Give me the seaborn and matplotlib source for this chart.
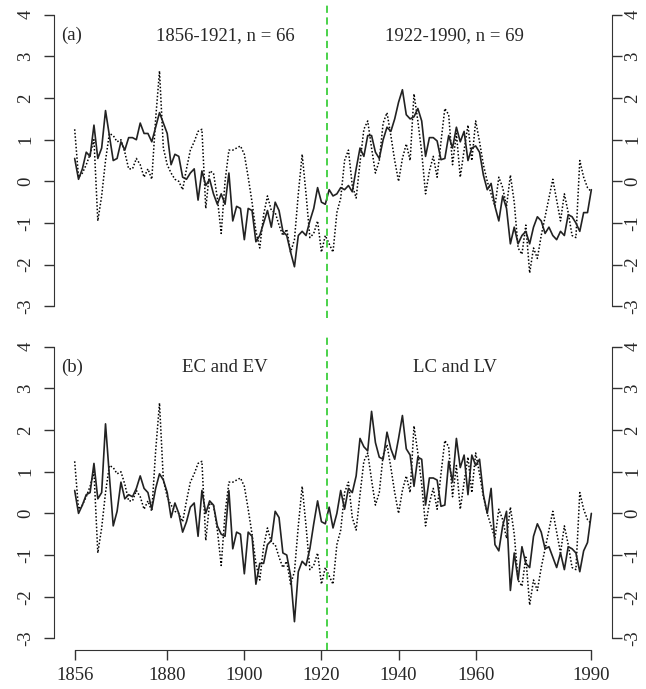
import numpy as np
import pandas as pd
import matplotlib
matplotlib.use("Agg")
import matplotlib.pyplot as plt
import seaborn as sns

years = np.arange(1856, 1991)

# dotted series, drawn in both panels
dotted = [
    1.25, 0.1, 0.2, 0.4, 0.65, 1.0, -0.95, -0.35, 0.5, 1.15,      # 1856-1865
    1.1, 0.95, 1.0, 0.7, 0.3, 0.3, 0.55, 0.4, 0.1, 0.3,           # 1866-1875
    0.05, 1.5, 2.65, 0.8, 0.4, 0.2, 0.05, 0.0, -0.2, 0.3,         # 1876-1885
    0.75, 0.95, 1.2, 1.25, -0.65, 0.25, 0.2, -0.4, -1.25, 0.0,    # 1886-1895
    0.75, 0.75, 0.8, 0.85, 0.65, 0.1, -0.5, -1.2, -1.6, -0.8,     # 1896-1905
    -0.35, -0.7, -0.75, -1.05, -1.3, -1.15, -1.7, -1.4, -0.3, 0.65,  # 1906-1915
    -0.3, -1.35, -1.25, -0.95, -1.7, -1.3, -1.5, -1.7, -0.75, -0.4,  # 1916-1925
    0.5, 0.75, -0.1, -0.4, 0.45, 1.25, 1.45, 0.8, 0.2, 0.5,       # 1926-1935
    1.4, 1.65, 1.1, 0.5, 0.0, 0.55, 0.9, 0.5, 2.1, 1.45,          # 1936-1945
    0.7, -0.3, 0.25, 0.6, 0.1, 0.95, 1.75, 1.6, 0.4, 1.15,        # 1946-1955
    0.1, 0.75, 1.35, 0.5, 1.45, 0.95, 0.4, 0.0, -0.3, -0.6,       # 1956-1965
    0.1, -0.15, -0.6, 0.15, -0.5, -1.6, -1.75, -1.05, -2.2, -1.6, # 1966-1975
    -1.85, -1.3, -0.85, -0.4, 0.05, -0.45, -0.95, -0.3, -0.75, -1.3,  # 1976-1985
    -1.35, 0.5, 0.1, -0.15, -0.25,                                # 1986-1990
]

# solid series, panel (a)
solid_a = [
    0.55, 0.05, 0.3, 0.7, 0.6, 1.35, 0.55, 0.8, 1.7, 1.1,         # 1856-1865
    0.5, 0.55, 0.95, 0.75, 1.05, 1.05, 1.0, 1.4, 1.15, 1.15,      # 1866-1875
    0.95, 1.3, 1.65, 1.4, 1.15, 0.4, 0.65, 0.6, 0.1, 0.05,        # 1876-1885
    0.2, 0.3, -0.45, 0.25, -0.1, 0.05, -0.3, -0.55, -0.3, -0.55,  # 1886-1895
    0.2, -0.95, -0.6, -0.65, -1.4, -0.65, -0.7, -1.45, -1.3, -1.0,  # 1896-1905
    -0.7, -1.1, -0.5, -0.7, -1.2, -1.3, -1.7, -2.05, -1.3, -1.2,  # 1906-1915
    -1.3, -0.95, -0.65, -0.15, -0.5, -0.55, -0.2, -0.35, -0.3, -0.15,  # 1916-1925
    -0.2, -0.1, -0.25, 0.3, 0.8, 0.6, 1.1, 1.1, 0.7, 0.55,        # 1926-1935
    1.0, 1.3, 1.2, 1.5, 1.9, 2.2, 1.6, 1.5, 1.55, 1.75,           # 1936-1945
    1.45, 0.6, 1.05, 1.05, 0.97, 0.52, 0.55, 1.1, 0.8, 1.3,       # 1946-1955
    0.95, 1.2, 0.5, 0.8, 0.85, 0.7, 0.15, -0.2, -0.05, -0.6,      # 1956-1965
    -0.95, -0.35, -0.65, -1.5, -1.1, -1.5, -1.3, -1.2, -1.5, -1.1,  # 1966-1975
    -0.85, -0.95, -1.25, -1.1, -1.3, -1.4, -1.2, -1.3, -0.8, -0.85,  # 1976-1985
    -1.0, -1.2, -0.75, -0.75, -0.2,                               # 1986-1990
]

# solid series, panel (b)
solid_b = [
    0.55, 0.0, 0.2, 0.45, 0.5, 1.2, 0.35, 0.5, 2.15, 0.9,         # 1856-1865
    -0.3, 0.05, 0.75, 0.35, 0.45, 0.4, 0.6, 0.9, 0.6, 0.5,        # 1866-1875
    0.1, 0.6, 0.95, 0.8, 0.5, -0.1, 0.25, 0.0, -0.45, -0.2,       # 1876-1885
    0.15, 0.25, -0.55, 0.55, 0.0, 0.3, 0.2, -0.3, -0.5, -0.55,    # 1886-1895
    0.55, -0.85, -0.45, -0.5, -1.45, -0.45, -0.55, -1.7, -1.2, -1.2,  # 1896-1905
    -0.75, -0.65, 0.05, -0.1, -0.95, -1.0, -1.5, -2.6, -1.4, -1.15,  # 1906-1915
    -1.25, -0.85, -0.25, 0.3, -0.2, -0.25, 0.15, -0.35, 0.0, 0.55,   # 1916-1925
    0.1, 0.6, 0.5, 0.9, 1.8, 1.6, 1.5, 2.45, 1.7, 1.35,           # 1926-1935
    1.3, 1.95, 1.55, 1.3, 1.8, 2.35, 1.55, 1.4, 0.65, 1.35,       # 1936-1945
    1.3, 0.2, 0.85, 0.85, 0.8, 0.17, 0.2, 1.25, 0.75, 1.8,        # 1946-1955
    1.1, 1.4, 0.45, 1.4, 1.15, 1.3, 0.45, 0.0, 0.6, -0.75,        # 1956-1965
    -0.9, -0.3, 0.05, -1.85, -0.95, -1.6, -0.8, -1.2, -1.3, -0.55,  # 1966-1975
    -0.25, -0.45, -0.85, -0.8, -1.05, -1.3, -0.95, -1.35, -0.8, -0.85,  # 1976-1985
    -0.95, -1.4, -0.9, -0.7, 0.0,                                 # 1986-1990
]

panel_tags = ["(a)", "(b)"]
left_titles = ["1856-1921, n = 66", "EC and EV"]
right_titles = ["1922-1990, n = 69", "LC and LV"]
split_year = 1921.5
xticks = [1856, 1880, 1900, 1920, 1940, 1960, 1990]
yticks = [-3, -2, -1, 0, 1, 2, 3, 4]

df = pd.DataFrame({"year": years, "dotted": dotted,
                   "solid_a": solid_a, "solid_b": solid_b})

sns.set_style("ticks")
plt.rcParams['font.family'] = ['Liberation Serif', 'DejaVu Serif']
plt.rcParams['axes.unicode_minus'] = False

fig = plt.figure(figsize=(6.46, 6.89), dpi=100)
ax_a = fig.add_axes([0.0836, 0.5385, 0.8638, 0.457])
ax_b = fig.add_axes([0.0836, 0.0566, 0.8638, 0.457])

fs = 13.5
ylim = (-3.28, 4.28)
for i, (ax, col) in enumerate([(ax_a, "solid_a"), (ax_b, "solid_b")]):
    sns.lineplot(data=df, x="year", y="dotted", ax=ax, color="black",
                 lw=1.1, linestyle=(0, (1, 1.3)))
    sns.lineplot(data=df, x="year", y=col, ax=ax, color="#222222", lw=1.2)
    ax.axvline(split_year, color="#3ccf3c", lw=1.3, linestyle=(0, (4, 2.5)))

    ax.set_xlim(1850.64, 1995.36)
    ax.set_ylim(*ylim)
    ax.set_xlabel("")
    ax.set_ylabel("")

    ax.spines["top"].set_visible(False)
    ax.spines["right"].set_visible(False)
    ax.spines["left"].set_bounds(-3, 4)
    ax.spines["left"].set_color("#333333")
    ax.set_yticks(yticks)
    ax.tick_params(axis="y", labelrotation=90, length=7, width=1,
                   pad=7, labelsize=fs, color="#333333")
    for lab in ax.get_yticklabels():
        lab.set_va("center")

    # right-hand axis, same scale
    rax = ax.twinx()
    rax.set_ylim(*ylim)
    rax.set_yticks(yticks)
    for side in ["top", "left", "bottom"]:
        rax.spines[side].set_visible(False)
    rax.spines["right"].set_bounds(-3, 4)
    rax.spines["right"].set_color("#333333")
    rax.tick_params(axis="y", labelrotation=90, length=7, width=1,
                    pad=2, labelsize=fs, color="#333333")
    for lab in rax.get_yticklabels():
        lab.set_va("center")

    ax.text(1852.6, 3.5, panel_tags[i], fontsize=fs, va="center", ha="left")
    ax.text(1895, 3.5, left_titles[i], fontsize=fs, va="center", ha="center")
    ax.text(1954.6, 3.5, right_titles[i], fontsize=fs, va="center", ha="center")

ax_a.spines["bottom"].set_visible(False)
ax_a.set_xticks([])

ax_b.spines["bottom"].set_bounds(1856, 1990)
ax_b.spines["bottom"].set_color("#333333")
ax_b.set_xticks(xticks)
ax_b.tick_params(axis="x", length=7, width=1, pad=5, labelsize=fs,
                 color="#333333")

fig.savefig("out.png", dpi=100)
